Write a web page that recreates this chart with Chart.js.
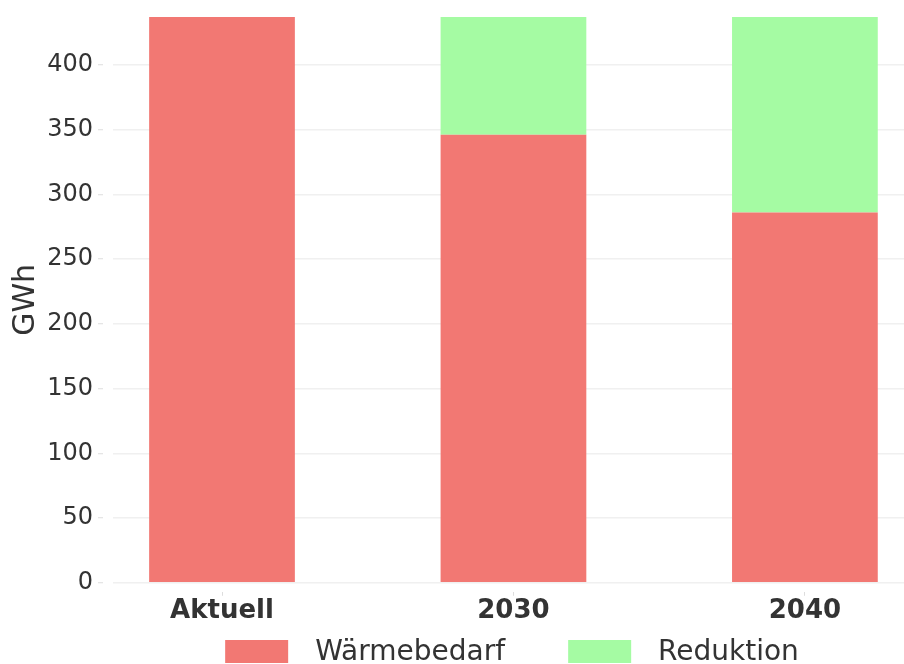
<!DOCTYPE html>
<html>
<head>
<meta charset="utf-8">
<script src="https://cdn.jsdelivr.net/npm/chart.js@4/dist/chart.umd.min.js"></script>
<style>
  html, body { margin: 0; padding: 0; background: #fff; overflow: hidden; }
  #wrap { position: relative; width: 904px; height: 664px; }
  #c { position: absolute; left: 0; top: 0; }
  #legend { position: absolute; left: 512px; top: 637px; transform: translateX(-50%);
            display: flex; align-items: center; white-space: nowrap;
            font-family: "DejaVu Sans", sans-serif; font-size: 28px; line-height: 28px; color: #333; }
  .sw { width: 63px; height: 23px; display: inline-block; }
  .lbl { display: inline-block; }
</style>
</head>
<body>
<div id="wrap">
  <canvas id="c" width="904" height="664"></canvas>
  <div id="legend"></div>
</div>
<script>
const categories = ["Aktuell", "2030", "2040"];
const seriesNames = ["Wärmebedarf", "Reduktion"];
const waermebedarf = [437, 346, 286];
const reduktion = [0, 91, 151];
const yTicksStep = 50;
const axisTitle = "GWh";

const colors = ["#F27873", "#A5FBA3"];
const FONT = '"DejaVu Sans", sans-serif';
const TEXT = '#333333';

const totals = categories.map((_, i) => waermebedarf[i] + reduktion[i]);
const yMax = Math.max(...totals);

const toPoints = arr => arr.map((v, i) => ({ x: i, y: v }));

// HTML legend
const legendEl = document.getElementById('legend');
seriesNames.forEach((name, i) => {
  const sw = document.createElement('span');
  sw.className = 'sw';
  sw.style.background = colors[i];
  sw.style.marginLeft = i === 0 ? '0px' : '63px';
  sw.style.marginRight = '27px';
  const t = document.createElement('span');
  t.className = 'lbl';
  t.textContent = name;
  legendEl.appendChild(sw);
  legendEl.appendChild(t);
});

new Chart(document.getElementById('c'), {
  type: 'bar',
  data: {
    datasets: [
      { label: seriesNames[0], data: toPoints(waermebedarf), backgroundColor: colors[0], borderWidth: 0 },
      { label: seriesNames[1], data: toPoints(reduktion), backgroundColor: colors[1], borderWidth: 0 }
    ]
  },
  options: {
    responsive: false,
    devicePixelRatio: 1,
    animation: false,
    barPercentage: 0.5,
    categoryPercentage: 1,
    layout: { padding: { top: 17, bottom: 37, left: 0, right: 0 } },
    plugins: { legend: { display: false }, tooltip: { enabled: false } },
    scales: {
      x: {
        type: 'linear',
        stacked: true,
        offset: false,
        min: -0.374,
        max: 2.34,
        border: { display: false },
        grid: { offset: false, drawOnChartArea: false, drawTicks: true, tickLength: 13,
                tickColor: '#dddddd', tickWidth: 1, tickBorderDash: [0, 9, 4, 100] },
        ticks: {
          stepSize: 1, includeBounds: false, autoSkip: false, maxRotation: 0, padding: 0,
          color: TEXT, font: { family: FONT, size: 26, weight: 'bold' },
          callback: v => (Number.isInteger(v) && categories[v] !== undefined) ? categories[v] : ''
        }
      },
      y: {
        stacked: true,
        min: 0,
        max: yMax,
        border: { display: false },
        afterFit: s => { s.width = 113; },
        grid: { color: '#f0f0f0', lineWidth: 1.5, drawTicks: true, tickLength: 15,
                tickColor: '#dddddd', tickWidth: 1, tickBorderDash: [5, 100] },
        ticks: { stepSize: yTicksStep, includeBounds: false, padding: 5, color: TEXT,
                 font: { family: FONT, size: 24, lineHeight: 1 } },
        title: { display: true, text: axisTitle, color: TEXT, font: { family: FONT, size: 30 },
                 padding: { top: 8, bottom: 0 } }
      }
    }
  }
});
</script>
</body>
</html>
